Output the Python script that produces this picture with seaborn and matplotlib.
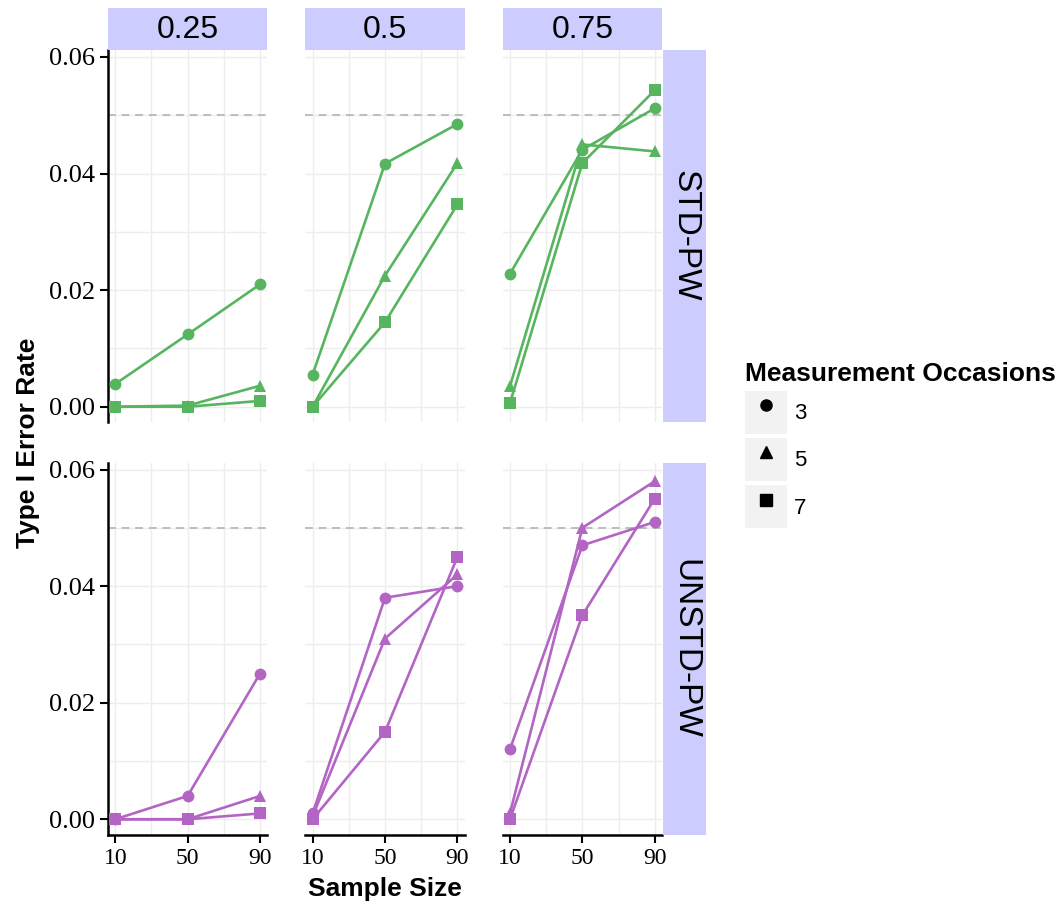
import numpy as np
import pandas as pd
import matplotlib
matplotlib.use("Agg")
import matplotlib.pyplot as plt
import seaborn as sns
from matplotlib.lines import Line2D
from matplotlib.patches import Rectangle
from matplotlib.legend_handler import HandlerTuple
from matplotlib.ticker import FormatStrFormatter

sample_sizes = [10, 50, 90]
occasions = [3, 5, 7]
proportions = ["0.25", "0.5", "0.75"]
methods = ["STD-PW", "UNSTD-PW"]

std_pw_025 = [[0.0039, 0.0124, 0.0210],
              [0.0000, 0.0002, 0.0036],
              [0.0000, 0.0000, 0.0010]]
std_pw_05 = [[0.0055, 0.0417, 0.0485],
             [0.0000, 0.0225, 0.0418],
             [0.0000, 0.0145, 0.0347]]
std_pw_075 = [[0.0228, 0.0441, 0.0512],
              [0.0035, 0.0450, 0.0438],
              [0.0006, 0.0418, 0.0543]]
unstd_pw_025 = [[0.0000, 0.0040, 0.0250],
                [0.0000, 0.0000, 0.0040],
                [0.0000, 0.0000, 0.0010]]
unstd_pw_05 = [[0.0010, 0.0380, 0.0400],
               [0.0005, 0.0310, 0.0420],
               [0.0000, 0.0150, 0.0450]]
unstd_pw_075 = [[0.0120, 0.0470, 0.0510],
                [0.0010, 0.0500, 0.0580],
                [0.0000, 0.0350, 0.0550]]

colors = {"STD-PW": "#57B55F", "UNSTD-PW": "#B365C4"}
marker_map = {3: "o", 5: "^", 7: "s"}

tables = {"STD-PW": [std_pw_025, std_pw_05, std_pw_075],
          "UNSTD-PW": [unstd_pw_025, unstd_pw_05, unstd_pw_075]}
rows = []
for method in methods:
    for prop, table in zip(proportions, tables[method]):
        for occ, vals in zip(occasions, table):
            for n, v in zip(sample_sizes, vals):
                rows.append({"method": method, "prop": prop, "occ": occ, "n": n, "rate": v})
df = pd.DataFrame(rows)

sns.set_style("white")
plt.rcParams["font.family"] = ["Liberation Sans", "DejaVu Sans"]
plt.rcParams["text.color"] = "black"
plt.rcParams["xtick.color"] = "black"
plt.rcParams["ytick.color"] = "black"
plt.rcParams["axes.labelcolor"] = "black"

W, H = 1062, 909
fig, axes = plt.subplots(2, 3, figsize=(W / 100, H / 100), dpi=100, sharex=True, sharey=True)
fig.subplots_adjust(left=108 / W, right=662 / W, bottom=1 - 835 / H, top=1 - 50 / H,
                    wspace=0.239, hspace=0.1075)

for i, method in enumerate(methods):
    for j, prop in enumerate(proportions):
        ax = axes[i, j]
        sub = df[(df.method == method) & (df.prop == prop)]
        ax.axhline(0.05, color="#BDBDBD", ls=(0, (4, 3)), lw=1.4, zorder=1)
        sns.lineplot(data=sub, x="n", y="rate", style="occ", markers=marker_map, dashes=False,
                     color=colors[method], lw=1.9, markersize=8.5, markeredgewidth=0,
                     errorbar=None, legend=False, ax=ax, zorder=3)
        ax.set_xlim(6, 94)
        ax.set_ylim(-0.0027, 0.0612)
        ax.set_xticks([10, 50, 90])
        ax.set_xticks([30, 70], minor=True)
        ax.set_yticks([0, 0.02, 0.04, 0.06])
        ax.set_yticks([0.01, 0.03, 0.05], minor=True)
        ax.yaxis.set_major_formatter(FormatStrFormatter("%.2f"))
        ax.grid(which="both", color="#EDEDED", lw=1)
        ax.set_axisbelow(True)
        ax.set_xlabel("")
        ax.set_ylabel("")
        for s in ["top", "right"]:
            ax.spines[s].set_visible(False)
        ax.spines["left"].set_visible(j == 0)
        ax.spines["bottom"].set_visible(i == 1)
        for s in ["left", "bottom"]:
            ax.spines[s].set_linewidth(1.8)
            ax.spines[s].set_color("black")
        ax.tick_params(which="minor", length=0)
        ax.tick_params(axis="y", which="major", length=6, width=1.5, direction="out",
                       left=(j == 0), labelleft=(j == 0), labelsize=19, pad=3)
        ax.tick_params(axis="x", which="major", length=6, width=1.5, direction="out",
                       bottom=(i == 1), labelbottom=(i == 1), labelsize=17, pad=3)
        for lab in ax.get_xticklabels() + ax.get_yticklabels():
            lab.set_fontfamily("Liberation Serif")

        pos = ax.get_position()
        if i == 0:
            sax = fig.add_axes([pos.x0, pos.y1, pos.width, 42 / H])
            sax.set_facecolor("#CCCCFF")
            sax.set_xticks([]); sax.set_yticks([])
            for s in sax.spines.values():
                s.set_visible(False)
            sax.text(0.5, 0.47, prop, ha="center", va="center", fontsize=23)
        if j == 2:
            rax = fig.add_axes([pos.x1 + 1 / W, pos.y0, 43 / W, pos.height])
            rax.set_facecolor("#CCCCFF")
            rax.set_xticks([]); rax.set_yticks([])
            for s in rax.spines.values():
                s.set_visible(False)
            rax.text(0.5, 0.5, method, ha="center", va="center", rotation=270, fontsize=24)

fig.text(28 / W, 1 - 443 / H, "Type I Error Rate", rotation=90, ha="center", va="center",
         fontsize=19, fontweight="bold")
fig.text(385 / W, 1 - 889 / H, "Sample Size", ha="center", va="center",
         fontsize=19, fontweight="bold")

handles = [(Rectangle((0, 0), 1, 1, facecolor="#F2F2F2", edgecolor="none"),
            Line2D([], [], ls="", marker=marker_map[o], color="black", markersize=8))
           for o in occasions]
fig.legend(handles, [str(o) for o in occasions], title="Measurement Occasions",
           title_fontproperties={"weight": "bold", "size": 19}, alignment="left",
           loc="upper left", bbox_to_anchor=(734 / W, 1 - 351 / H), frameon=False,
           borderpad=0, fontsize=16, handlelength=1.9, handleheight=2.6,
           labelspacing=0.2, handletextpad=0.3,
           handler_map={tuple: HandlerTuple(ndivide=1)})

fig.savefig("out.png", dpi=100)
